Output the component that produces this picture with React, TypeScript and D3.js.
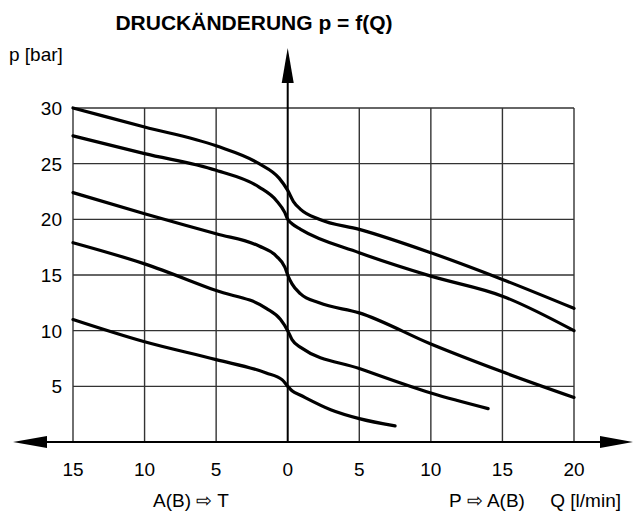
import React from "react";
import * as d3 from "d3";

// curves: [Q in l/min (negative = A(B)->T side), p in bar]
const curve1: [number, number][] = [
  [-15, 30], [-10, 28.3], [-5, 26.6], [-2, 25.0], [-0.6, 23.7], [0, 22.6],
  [0.4, 21.6], [0.9, 20.9], [2.2, 20.0], [5, 19.1], [10, 17.0], [15, 14.6], [20, 12.0],
];
const curve2: [number, number][] = [
  [-15, 27.5], [-10, 25.9], [-5, 24.4], [-2, 22.9], [-0.8, 21.7], [-0.2, 20.6], [0, 20],
  [0.3, 19.6], [0.9, 19.1], [5, 17.0], [10, 14.9], [15, 13.1], [20, 10],
];
const curve3: [number, number][] = [
  [-15, 22.4], [-10, 20.5], [-5, 18.7], [-2, 17.6], [-0.8, 16.7], [-0.2, 15.7], [0, 15],
  [0.3, 14.2], [0.9, 13.3], [2.2, 12.5], [5, 11.6], [10, 8.8], [15, 6.3], [20, 4.0],
];
const curve4: [number, number][] = [
  [-15, 17.9], [-10, 16.0], [-5, 13.6], [-1.5, 12.0], [-0.5, 11.0], [0, 10],
  [0.3, 9.2], [0.9, 8.5], [5, 6.6], [10, 4.4], [14, 3.0],
];
const curve5: [number, number][] = [
  [-15, 11.0], [-10, 9.0], [-5, 7.4], [-1.5, 6.2], [-0.4, 5.6], [0, 5],
  [0.3, 4.6], [0.9, 4.2], [3, 2.9], [5, 2.1], [7.5, 1.45],
];
const curves = [curve1, curve2, curve3, curve4, curve5];

const qTicks = [-15, -10, -5, 0, 5, 10, 15, 20];
const pTicks = [5, 10, 15, 20, 25, 30];

const title = "DRUCKÄNDERUNG p = f(Q)";
const yTitle = "p [bar]";
const xTitle = "Q [l/min]";
const leftLabel = "A(B) \u21E8 T";
const rightLabel = "P \u21E8 A(B)";

const W = 643, H = 513;
const font = "'Liberation Sans', Arial, sans-serif";

const App: React.FC = () => {
  const x = d3.scaleLinear().domain([-15, 20]).range([73, 574]);
  const y = d3.scaleLinear().domain([0, 30]).range([442, 108]);

  const line = d3.line<[number, number]>()
    .x(d => x(d[0]))
    .y(d => y(d[1]))
    .curve(d3.curveMonotoneX);

  const x0 = x(0), y0 = y(0);

  return (
    <svg width={W} height={H} style={{ position: "absolute", left: 0, top: 0, background: "#fff" }}
         fontFamily={font}>
      <rect width={W} height={H} fill="#fff" />
      <text x={254} y={30} textAnchor="middle" fontWeight="bold" fontSize={21}>{title}</text>
      <text x={9} y={61} fontSize={19}>{yTitle}</text>

      {/* grid */}
      <g stroke="#333" strokeWidth={1.4}>
        {pTicks.map(p => (
          <line key={"h" + p} x1={x(-15)} x2={x(20)} y1={y(p)} y2={y(p)} />
        ))}
        {qTicks.filter(q => q !== 0).map(q => (
          <line key={"v" + q} x1={x(q)} x2={x(q)} y1={y(30)} y2={y0} />
        ))}
      </g>

      {/* axes with arrows */}
      <g stroke="#000" strokeWidth={2}>
        <line x1={x0} x2={x0} y1={y0} y2={70} />
        <line x1={30} x2={616} y1={y0} y2={y0} />
      </g>
      <polygon points={`${x0},48 ${x0 - 6},83 ${x0 + 6},83`} fill="#000" />
      <polygon points={`13,${y0} 47,${y0 - 6} 47,${y0 + 6}`} fill="#000" />
      <polygon points={`633,${y0} 600,${y0 - 6} 600,${y0 + 6}`} fill="#000" />

      {/* tick labels */}
      {pTicks.map(p => (
        <text key={"pl" + p} x={62} y={y(p)} dy="0.36em" textAnchor="end" fontSize={19}>{p}</text>
      ))}
      {qTicks.map(q => (
        <text key={"ql" + q} x={x(q)} y={476} textAnchor="middle" fontSize={19}>{Math.abs(q)}</text>
      ))}

      <text x={191} y={507} textAnchor="middle" fontSize={19}>{leftLabel}</text>
      <text x={487} y={507} textAnchor="middle" fontSize={19}>{rightLabel}</text>
      <text x={621} y={507} textAnchor="end" fontSize={19}>{xTitle}</text>

      {/* curves */}
      <g fill="none" stroke="#000" strokeWidth={3.2} strokeLinecap="round">
        {curves.map((c, i) => <path key={i} d={line(c) || ""} />)}
      </g>
    </svg>
  );
};

export default App;
